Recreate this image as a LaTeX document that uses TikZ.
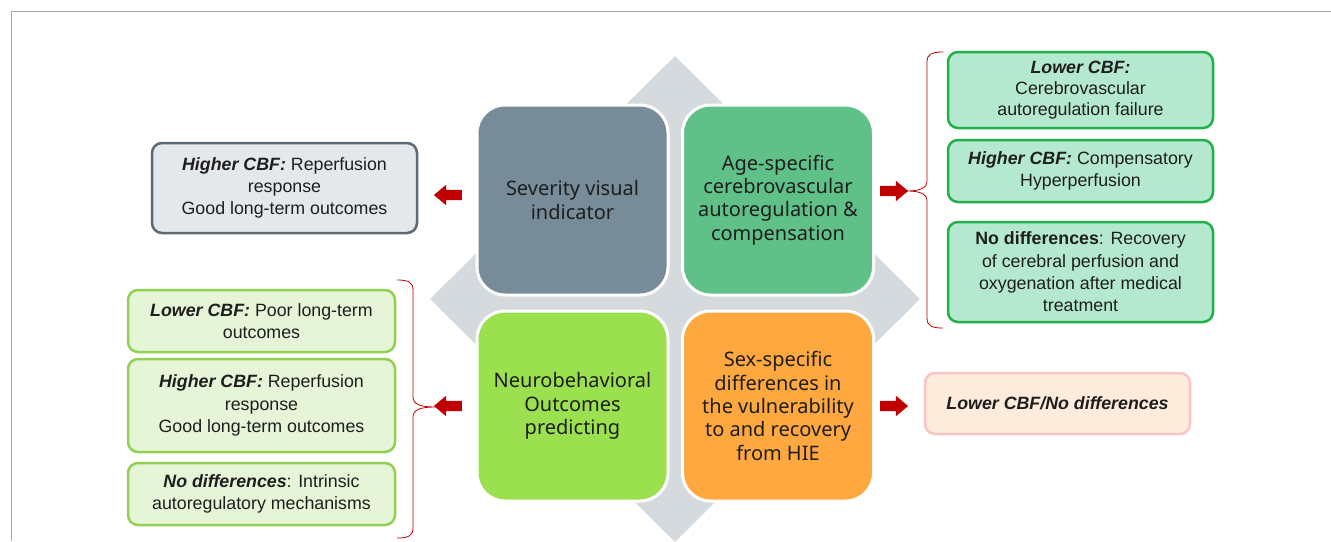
\documentclass[tikz,border=0pt]{standalone}
\usepackage{fontspec}
\setmainfont{Liberation Sans}
\newfontfamily\cfont{Noto Sans}
\usetikzlibrary{shapes.geometric,shapes.arrows}
\definecolor{diam}{HTML}{D5DADE}
\definecolor{cgrey}{HTML}{778C98}
\definecolor{cgreen}{HTML}{60C188}
\definecolor{clime}{HTML}{9BE04F}
\definecolor{corange}{HTML}{FFA83F}
\definecolor{rfill}{HTML}{B4E9CF}
\definecolor{rdraw}{HTML}{22B04C}
\definecolor{lfill}{HTML}{E6F4D7}
\definecolor{ldraw}{HTML}{92D050}
\definecolor{pfill}{HTML}{FDEBDC}
\definecolor{pdraw}{HTML}{F9C4C4}
\definecolor{gfill}{HTML}{E5E8EB}
\definecolor{gdraw}{HTML}{5A6A76}
\definecolor{darkred}{HTML}{C00000}
\definecolor{txt}{HTML}{1E1E1E}
\begin{document}
\begin{tikzpicture}[x=1pt,y=-1pt,
  cbox/.style={draw=white, line width=3pt, rounded corners=28pt, minimum width=191pt, minimum height=190pt, align=center, text=txt, font=\cfont\fontsize{20}{23.3}\selectfont, inner sep=0pt},
  sbox/.style={rounded corners=10pt, line width=2.5pt, align=center, text=txt, font=\fontsize{17.8}{22.3}\selectfont, inner sep=0pt, minimum width=265pt},
  rbox/.style={sbox, fill=rfill, draw=rdraw},
  lbox/.style={sbox, fill=lfill, draw=ldraw, minimum width=267pt},
  redarrow/.style={single arrow, fill=darkred, draw=none, inner sep=5pt, single arrow head extend=5pt, single arrow tip angle=80, minimum height=28pt},
  bracestyle/.style={draw=darkred, line width=0.8pt},
]
\useasboundingbox (0,0) rectangle (1331,541);
\draw[gray!70, line width=1pt] (1331,11) -- (11,11) -- (11,541);

\node[diamond, fill=diam, minimum width=490pt, minimum height=486pt, inner sep=0pt] (dia) at (675,299) {};

\node[cbox, fill=cgrey] (sev) at (572.5,200) {Severity visual\\indicator};
\node[cbox, fill=cgreen] (age) at (778,200) {Age-specific\\cerebrovascular\\autoregulation \&\\compensation};
\node[cbox, fill=clime] (neu) at (572.5,406) {Neurobehavioral\\Outcomes\\predicting};
\node[cbox, fill=corange] (sex) at (778,406) {Sex-specific\\differences in\\the vulnerability\\to and recovery\\from HIE};

\node[redarrow, shape border rotate=180] (a1) at (451,195) {};
\node[redarrow] (a2) at (891,191) {};
\node[redarrow] (a3) at (891,406) {};
\node[redarrow, shape border rotate=180] (a4) at (451,406) {};

\node[sbox, fill=gfill, draw=gdraw, minimum height=90pt] (g1) at (284.5,188) {\textbf{\textit{Higher CBF:}} Reperfusion\\response\\Good long-term outcomes};

\node[rbox, minimum height=76pt, font=\fontsize{17.8}{21.3}\selectfont] (r1) at (1080.5,90) {\textbf{\textit{Lower CBF:}}\\Cerebrovascular\\autoregulation failure};
\node[rbox, minimum height=62pt] (r2) at (1080.5,171) {\textbf{\textit{Higher CBF:}} Compensatory\\Hyperperfusion};
\node[rbox, minimum height=100pt] (r3) at (1080.5,272) {\textbf{No differences}: Recovery\\of cerebral perfusion and\\oxygenation after medical\\treatment};

\node[sbox, fill=pfill, draw=pdraw, minimum height=61pt] (p1) at (1057.5,403.5) {\textbf{\textit{Lower CBF/No differences}}};

\node[lbox, minimum height=62pt] (l1) at (261.5,321) {\textbf{\textit{Lower CBF:}} Poor long-term\\outcomes};
\node[lbox, minimum height=93pt] (l2) at (261.5,405.5) {\textbf{\textit{Higher CBF:}} Reperfusion\\response\\Good long-term outcomes};
\node[lbox, minimum height=62pt] (l3) at (261.5,494) {\textbf{\textit{No differences}}: Intrinsic\\autoregulatory mechanisms};

\coordinate (rb1) at (943,52);
\coordinate (rtip) at (907,191);
\coordinate (rb2) at (943,328);
\draw[bracestyle] (rb1) .. controls (932,52) and (927,54) .. (927,62) -- (927,181)
  .. controls (927,188) and (920,191) .. (rtip)
  .. controls (920,191) and (927,194) .. (927,201) -- (927,318)
  .. controls (927,326) and (932,328) .. (rb2);
\coordinate (lb1) at (397,280);
\coordinate (ltip) at (435,407);
\coordinate (lb2) at (397,538);
\draw[bracestyle] (lb1) .. controls (408,280) and (413,282) .. (413,290) -- (413,397)
  .. controls (413,404) and (420,407) .. (ltip)
  .. controls (420,407) and (413,410) .. (413,417) -- (413,528)
  .. controls (413,536) and (408,538) .. (lb2);
\end{tikzpicture}
\end{document}
